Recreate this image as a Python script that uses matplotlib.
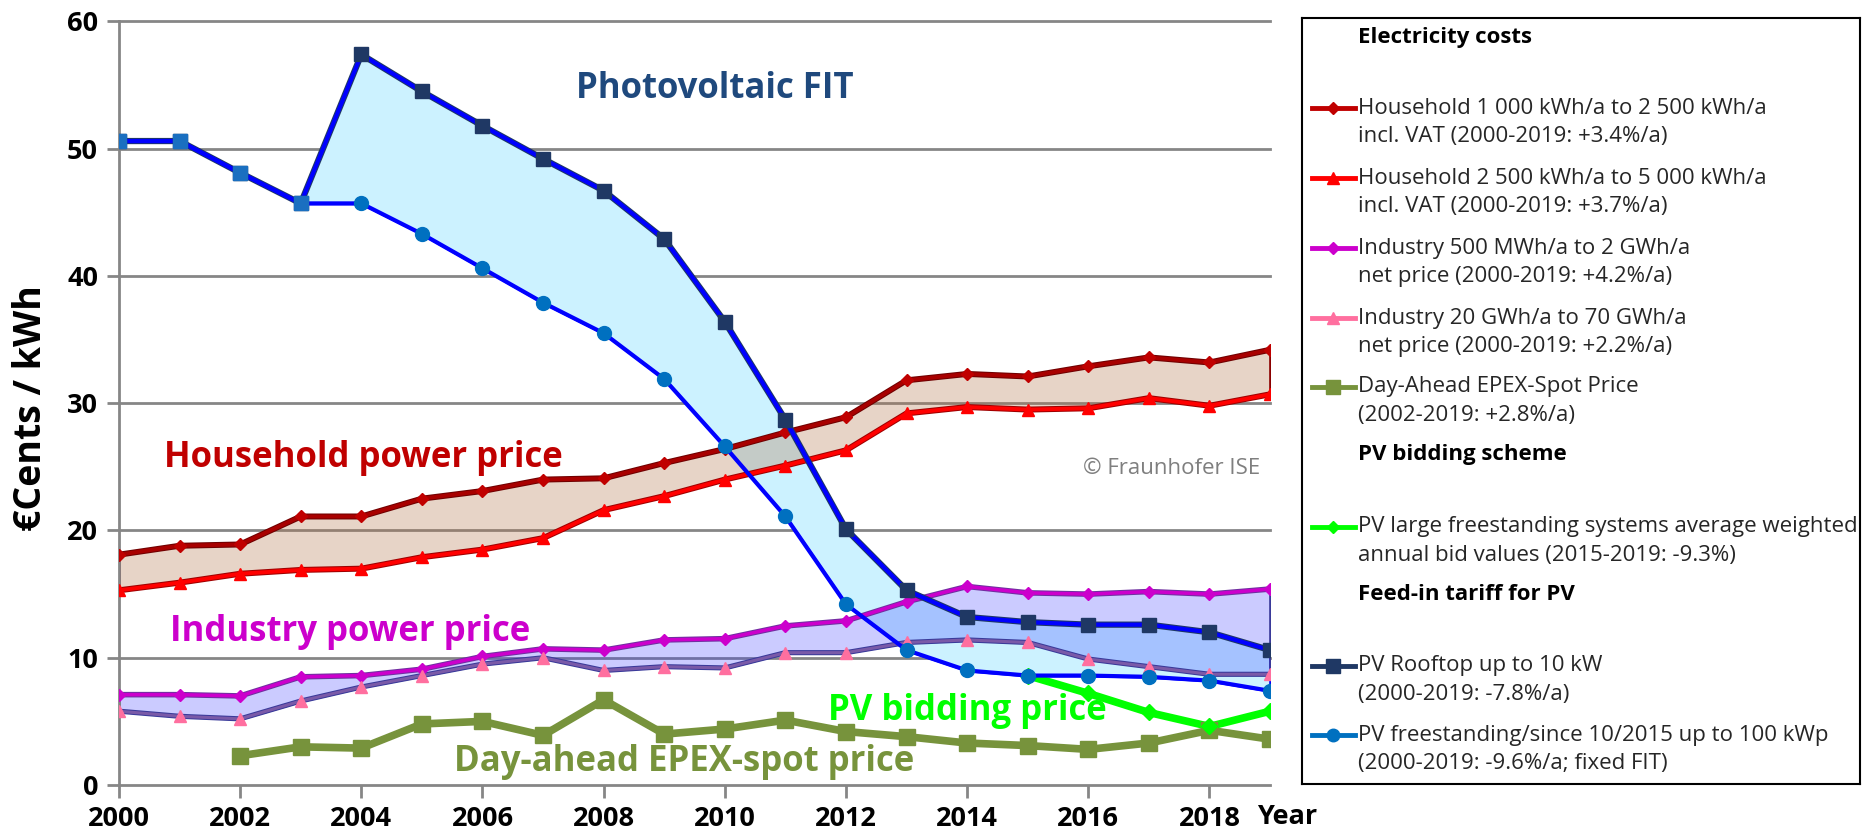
import matplotlib
matplotlib.use('Agg')
import matplotlib.pyplot as plt
import matplotlib.patheffects as pe

plt.rcParams['font.family'] = ['Open Sans', 'DejaVu Sans']

# values in €Cents / kWh
years = list(range(2000, 2020))
household_small = [18.1, 18.8, 18.9, 21.1, 21.1, 22.5, 23.1, 24.0, 24.1, 25.3,
                   26.4, 27.7, 28.9, 31.8, 32.3, 32.1, 32.9, 33.6, 33.2, 34.2]
household_large = [15.3, 15.9, 16.6, 16.9, 17.0, 17.9, 18.5, 19.4, 21.6, 22.7,
                   24.0, 25.1, 26.3, 29.2, 29.7, 29.5, 29.6, 30.4, 29.8, 30.7]
industry_small = [7.1, 7.1, 7.0, 8.5, 8.6, 9.1, 10.1, 10.7, 10.6, 11.4,
                  11.5, 12.5, 12.9, 14.4, 15.6, 15.1, 15.0, 15.2, 15.0, 15.4]
industry_large = [5.8, 5.4, 5.2, 6.6, 7.7, 8.6, 9.5, 10.0, 9.0, 9.3,
                  9.2, 10.4, 10.4, 11.2, 11.4, 11.2, 9.9, 9.3, 8.7, 8.7]
epex_years = list(range(2002, 2020))
epex_spot = [2.3, 3.0, 2.9, 4.8, 5.0, 3.9, 6.7, 4.0, 4.4, 5.1,
             4.2, 3.8, 3.3, 3.1, 2.8, 3.3, 4.3, 3.6]
bid_years = list(range(2015, 2020))
pv_bidding = [8.6, 7.2, 5.7, 4.6, 5.8]
pv_rooftop = [50.6, 50.6, 48.1, 45.7, 57.4, 54.5, 51.8, 49.2, 46.7, 42.9,
              36.4, 28.7, 20.1, 15.3, 13.2, 12.8, 12.6, 12.6, 12.0, 10.6]
pv_freestanding = [50.6, 50.6, 48.1, 45.7, 45.7, 43.3, 40.6, 37.9, 35.5, 31.9,
                   26.6, 21.1, 14.2, 10.6, 9.0, 8.6, 8.6, 8.5, 8.2, 7.4]

legend_labels = [
    'Household 1 000 kWh/a to 2 500 kWh/a\nincl. VAT (2000-2019: +3.4%/a)',
    'Household 2 500 kWh/a to 5 000 kWh/a\nincl. VAT (2000-2019: +3.7%/a)',
    'Industry 500 MWh/a to 2 GWh/a\nnet price (2000-2019: +4.2%/a)',
    'Industry 20 GWh/a to 70 GWh/a\nnet price (2000-2019: +2.2%/a)',
    'Day-Ahead EPEX-Spot Price\n(2002-2019: +2.8%/a)',
    'PV large freestanding systems average weighted\nannual bid values (2015-2019: -9.3%)',
    'PV Rooftop up to 10 kW\n(2000-2019: -7.8%/a)',
    'PV freestanding/since 10/2015 up to 100 kWp\n(2000-2019: -9.6%/a; fixed FIT)',
]
legend_headers = ['Electricity costs', 'PV bidding scheme', 'Feed-in tariff for PV']


def outline(color, width):
    return [pe.Stroke(linewidth=width, foreground=color), pe.Normal()]


def draw_series(ax, xs, ys, line_color, edge_color, marker, marker_color, ms, lw, z):
    ax.plot(xs, ys, color=line_color, lw=lw, zorder=z,
            solid_joinstyle='round', path_effects=outline(edge_color, lw + 1.5))
    ax.plot(xs, ys, ls='none', marker=marker, ms=ms, mfc=marker_color,
            mec=marker_color, zorder=z + 0.5)


fig = plt.figure(figsize=(18.65, 8.33), dpi=100)
ax = fig.add_axes([0.0638, 0.0576, 0.6172, 0.9167])

# shaded bands
ax.fill_between(years, pv_freestanding, pv_rooftop, facecolor='#ccf2ff',
                edgecolor='#0000ff', lw=2, zorder=1)
ax.fill_between(years, household_large, household_small,
                facecolor=(178 / 255, 115 / 255, 72 / 255, 0.3),
                edgecolor='#8b0000', lw=2, zorder=2)
ax.fill_between(years, industry_large, industry_small,
                facecolor=(0.2, 0.2, 1.0, 0.25), edgecolor='#3a3a9a', lw=2, zorder=2)

draw_series(ax, years, household_small, '#a80000', '#700000', 'D', '#c00000', 6, 2.8, 4)
draw_series(ax, years, household_large, '#ff0000', '#a00000', '^', '#ff0000', 9, 2.8, 4)
draw_series(ax, years, industry_small, '#cc00cc', '#7030a0', 'D', '#cc00cc', 6, 2.5, 4)
draw_series(ax, years, industry_large, '#7a5aa8', '#3a3a9a', '^', '#ff6f9f', 9, 2.2, 4)
draw_series(ax, epex_years, epex_spot, '#77933c', '#77933c', 's', '#77933c', 11, 4, 4)
draw_series(ax, bid_years, pv_bidding, '#00ff00', '#00ff00', 'D', '#00ff00', 8, 4, 4)
draw_series(ax, years, pv_rooftop, '#0000ff', '#1f3864', 's', '#1f3864', 10, 3, 6)
ax.plot(years, pv_freestanding, color='#0000ff', lw=3, zorder=6)
ax.plot(years[:4], pv_freestanding[:4], ls='none', marker='s', ms=10,
        mfc='#1a6fc0', mec='#1a6fc0', zorder=6.6)
ax.plot(years[4:], pv_freestanding[4:], ls='none', marker='o', ms=10,
        mfc='#0070c0', mec='#0070c0', zorder=6.5)

# labels inside the chart
ax.text(2009.84, 54.7, 'Photovoltaic FIT', color='#1f497d', fontsize=25,
        weight='bold', ha='center', va='center')
ax.text(2004.04, 25.7, 'Household power price', color='#c00000', fontsize=25,
        weight='bold', ha='center', va='center')
ax.text(2003.82, 12.0, 'Industry power price', color='#cc00cc', fontsize=25,
        weight='bold', ha='center', va='center')
ax.text(2014.0, 5.8, 'PV bidding price', color='#00ff00', fontsize=25,
        weight='bold', ha='center', va='center', zorder=8)
ax.text(2009.33, 1.8, 'Day-ahead EPEX-spot price', color='#77933c', fontsize=25,
        weight='bold', ha='center', va='center')
ax.text(2017.38, 24.9, '© Fraunhofer ISE', color='#7f7f7f', fontsize=16,
        ha='center', va='center')

ax.set_xlim(2000, 2019)
ax.set_ylim(0, 60)
ax.set_xticks(range(2000, 2019, 2))
ax.set_yticks(range(0, 61, 10))
ax.grid(axis='y', color='#868686', lw=2)
for gl in ax.yaxis.get_gridlines():
    gl.set_clip_on(False)
ax.set_axisbelow(True)
for side in ['top', 'right', 'bottom']:
    ax.spines[side].set_visible(False)
ax.spines['left'].set_color('#868686')
ax.spines['left'].set_linewidth(2)
ax.tick_params(color='#868686', length=9, width=2, labelsize=19.5, pad=6)
for lab in ax.get_xticklabels() + ax.get_yticklabels():
    lab.set_fontweight('bold')

fig.text(1257 / 1865, 1 - 817 / 833, 'Year', fontsize=19.5, weight='bold', va='center')
fig.text(31 / 1865, 1 - 408 / 833, '€Cents / kWh', fontsize=27, weight='bold',
         rotation=90, ha='center', va='center')

# legend box (pixel-like coordinates inside the box)
lax = fig.add_axes([1301.7 / 1865, 1 - 784 / 833, (1860 - 1301.7) / 1865, (784 - 18.3) / 833])
lax.set_xlim(0, 558.3)
lax.set_ylim(765.7, 0)
lax.set_xticks([])
lax.set_yticks([])
for s in lax.spines.values():
    s.set_color('black')
    s.set_linewidth(1.5)

handle_styles = [
    ('#c00000', 'D', 6), ('#ff0000', '^', 9), ('#cc00cc', 'D', 6), ('#ff6f9f', '^', 9),
    ('#77933c', 's', 10), ('#00ff00', 'D', 6), ('#1f3864', 's', 10), ('#0070c0', 'o', 9),
]
entry_rows = [90, 160, 230, 300, 368.4, 508.4, 647.4, 716.7]
header_rows = [19.4, 436.7, 576.7]

for head, yy in zip(legend_headers, header_rows):
    lax.text(56, yy, head, fontsize=16, weight='bold', va='center', ha='left')
for lab, yy, (col, mk, ms) in zip(legend_labels, entry_rows, handle_styles):
    lax.plot([10, 53], [yy, yy], color=col, lw=3.5)
    lax.plot([31.5], [yy], marker=mk, ms=ms, color=col)
    first, second = lab.split('\n')
    lax.text(56, yy, first, fontsize=16, va='center', ha='left', color='#262626')
    lax.text(56, yy + 28.4, second, fontsize=16, va='center', ha='left', color='#262626')

fig.savefig('out.png', dpi=100)
